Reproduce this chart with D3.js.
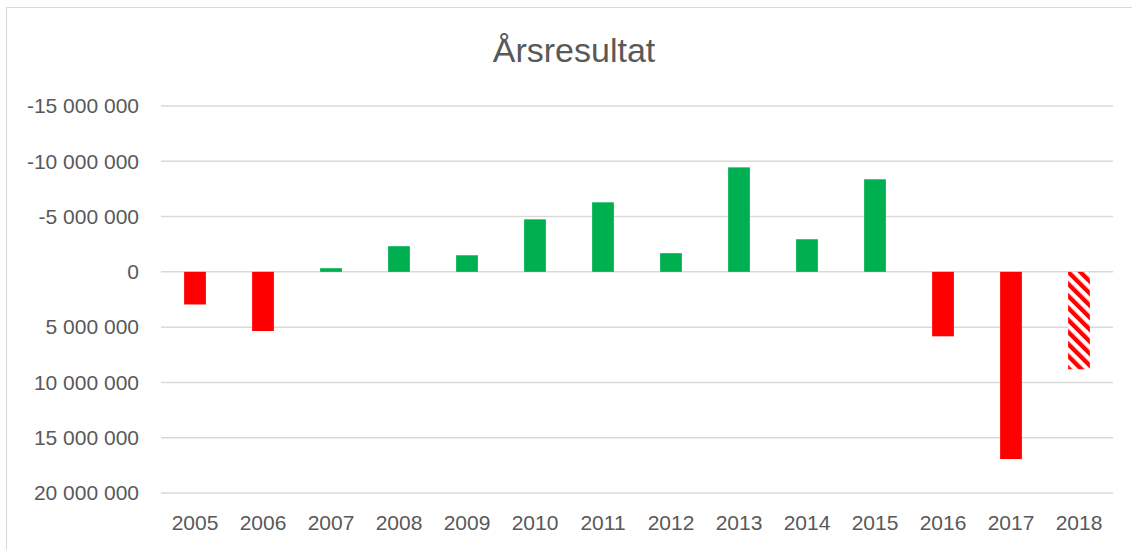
<!DOCTYPE html>
<html>
<head>
<meta charset="utf-8">
<script src="https://cdn.jsdelivr.net/npm/d3@7"></script>
<style>
  body { margin: 0; background: #fff; }
  text { font-family: "Liberation Sans", "DejaVu Sans", sans-serif; fill: #595959; }
</style>
</head>
<body>
<div id="chart"></div>
<script>
// data
const years = ["2005","2006","2007","2008","2009","2010","2011","2012","2013","2014","2015","2016","2017","2018"];
const results = [2950000, 5350000, -330000, -2320000, -1500000, -4750000, -6290000, -1690000, -9450000, -2950000, -8370000, 5830000, 16930000, 8810000];
const estimated = ["2018"]; // hatched bar
const yTicks = [-15000000, -10000000, -5000000, 0, 5000000, 10000000, 15000000, 20000000];

const width = 1132, height = 550;
const margin = {top: 106, right: 19, bottom: 57, left: 161};

const svg = d3.select("#chart")
  .append("svg")
  .attr("width", width)
  .attr("height", height);

// chart frame (cut off right and bottom, like the picture)
svg.append("rect")
  .attr("x", 6.5).attr("y", 7.5)
  .attr("width", width + 20).attr("height", height + 20)
  .attr("fill", "none")
  .attr("stroke", "#d9d9d9")
  .attr("stroke-width", 1);

const defs = svg.append("defs");
const pattern = defs.append("pattern")
  .attr("id", "hatch")
  .attr("patternUnits", "userSpaceOnUse")
  .attr("width", 8.5).attr("height", 8.5)
  .attr("patternTransform", "rotate(-45)");
pattern.append("rect")
  .attr("width", 8.5).attr("height", 8.5)
  .attr("fill", "#fff");
pattern.append("rect")
  .attr("width", 4.3).attr("height", 8.5)
  .attr("fill", "#ff0000");

const xScale = d3.scaleBand()
  .domain(years)
  .range([margin.left, width - margin.right])
  .paddingInner(0.68)
  .paddingOuter(0.34);

const yScale = d3.scaleLinear()
  .domain([-15000000, 20000000])
  .range([margin.top, height - margin.bottom]);

const locale = d3.formatLocale({decimal: ",", thousands: " ", grouping: [3], currency: ["", ""], minus: "-"});
const fmt = locale.format(",d");

// gridlines
svg.append("g")
  .selectAll("line")
  .data(yTicks)
  .join("line")
  .attr("x1", margin.left)
  .attr("x2", width - margin.right)
  .attr("y1", d => yScale(d))
  .attr("y2", d => yScale(d))
  .attr("stroke", "#d9d9d9")
  .attr("stroke-width", 1.5);

// y axis labels
const yAxis = d3.axisLeft(yScale)
  .tickValues(yTicks)
  .tickFormat(fmt)
  .tickSize(0)
  .tickPadding(22);

svg.append("g")
  .attr("transform", `translate(${margin.left},0)`)
  .call(yAxis)
  .call(g => g.select(".domain").remove())
  .call(g => g.selectAll("text")
    .attr("font-size", 21)
    .attr("font-family", null)
    .attr("fill", "#595959"));

// x axis labels
const xAxis = d3.axisBottom(xScale).tickSize(0).tickPadding(22);
svg.append("g")
  .attr("transform", `translate(0,${height - margin.bottom})`)
  .call(xAxis)
  .call(g => g.select(".domain").remove())
  .call(g => g.selectAll("text")
    .attr("font-size", 21)
    .attr("font-family", null)
    .attr("fill", "#595959"));

// bars
svg.append("g")
  .selectAll("rect")
  .data(years.map((y, i) => ({year: y, value: results[i]})))
  .join("rect")
  .attr("x", d => xScale(d.year))
  .attr("width", xScale.bandwidth())
  .attr("y", d => Math.min(yScale(0), yScale(d.value)))
  .attr("height", d => Math.abs(yScale(d.value) - yScale(0)))
  .attr("fill", d => estimated.includes(d.year) ? "url(#hatch)" : (d.value < 0 ? "#00b050" : "#ff0000"));

// title
svg.append("text")
  .attr("x", 574)
  .attr("y", 62)
  .attr("text-anchor", "middle")
  .attr("font-size", 34)
  .text("Årsresultat");
</script>
</body>
</html>
